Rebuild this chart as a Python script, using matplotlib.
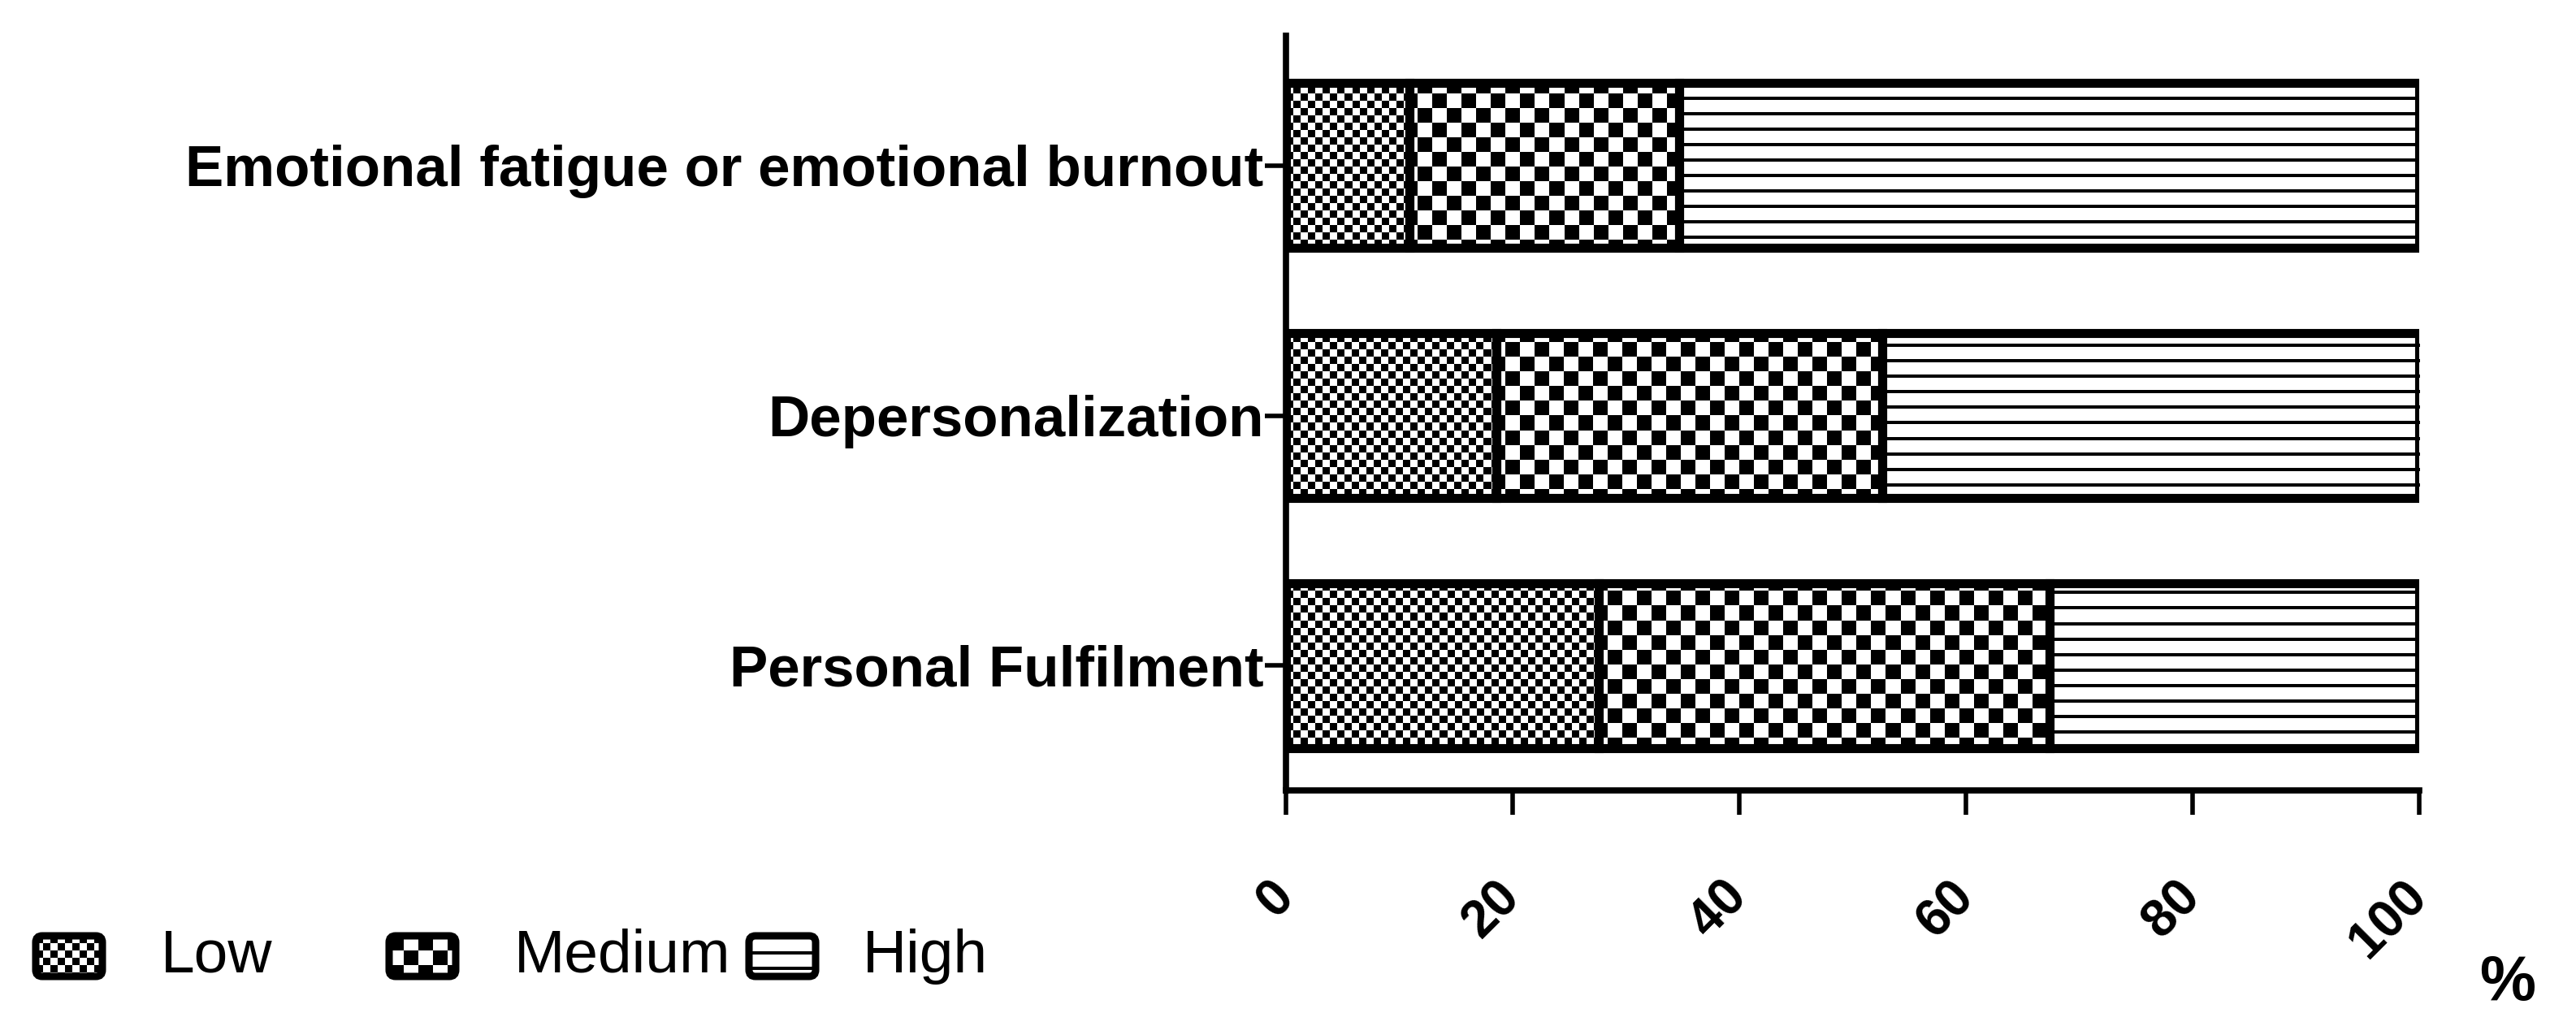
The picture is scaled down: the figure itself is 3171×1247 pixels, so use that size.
import numpy as np
import matplotlib
matplotlib.use("Agg")
import matplotlib.pyplot as plt
from matplotlib.patches import FancyBboxPatch

plt.rcParams['font.family'] = ['Liberation Sans', 'DejaVu Sans']

# --- data (percent of respondents) ---
categories = ['Personal Fulfilment', 'Depersonalization',
              'Emotional fatigue or emotional burnout']
levels = ['Low', 'Medium', 'High']
low = [27.6, 18.6, 10.9]
medium = [39.8, 34.0, 23.8]
high = [32.6, 47.4, 65.3]
x_ticks = [0, 20, 40, 60, 80, 100]
x_unit = '%'

# --- canvas, in pixels ---
W, H = 3171, 1247
fig = plt.figure(figsize=(W / 100, H / 100), dpi=100)
fig.patch.set_facecolor('white')

ax_l, ax_r, ax_b, ax_t = 1583, 2978, 973, 44
ax = fig.add_axes([ax_l / W, (H - ax_b) / H, (ax_r - ax_l) / W, (ax_b - ax_t) / H])
ax_w, ax_h = ax_r - ax_l, ax_b - ax_t


def pattern(kind, h, w):
    """black/white fill pattern, 1 = white, 0 = black"""
    yy, xx = np.mgrid[0:h, 0:w]
    if kind == 'fine':
        return ((xx // 9 + yy // 9) % 2).astype(float)
    if kind == 'coarse':
        return ((xx // 18 + yy // 18) % 2).astype(float)
    return ((yy % 19) >= 4).astype(float)


fills = ['fine', 'coarse', 'lines']
series = [low, medium, high]

xlim = (0, 100)
ylim = (-0.5, 2.52)
ypos = np.arange(len(categories))
bar_h = 0.66

left = np.zeros(len(categories))
for vals, kind in zip(series, fills):
    bars = ax.barh(ypos, vals, height=bar_h, left=left, facecolor='none',
                   edgecolor='black', linewidth=8, zorder=3)
    img = pattern(kind, ax_h, ax_w)
    for b in bars:
        im = ax.imshow(img, cmap='gray', vmin=0, vmax=1, aspect='auto',
                       interpolation='nearest', origin='upper',
                       extent=(xlim[0], xlim[1], ylim[0], ylim[1]), zorder=2)
        im.set_clip_path(b)
    left = left + np.array(vals)

ax.set_xlim(*xlim)
ax.set_ylim(*ylim)

for s in ['top', 'right']:
    ax.spines[s].set_visible(False)
for s in ['left', 'bottom']:
    ax.spines[s].set_linewidth(5.5)

ax.set_yticks(ypos)
ax.set_yticklabels(categories, fontsize=51, fontweight='bold')
ax.tick_params(axis='y', length=18.7, width=4, pad=1)

ax.set_xticks(x_ticks)
ax.set_xticklabels([str(t) for t in x_ticks], fontsize=46, fontweight='bold',
                   rotation=45, ha='right', va='center', rotation_mode='anchor')
ax.tick_params(axis='x', length=21.6, width=4, pad=66)

fig.text(3087 / W, 1 - 1210 / H, x_unit, fontsize=56, fontweight='bold',
         ha='center', va='center')

# --- legend, drawn in pixel space ---
leg = fig.add_axes([0, 0, 1, 1], facecolor='none')
leg.set_xlim(0, W)
leg.set_ylim(H, 0)
leg.axis('off')

box_x = [44, 479, 922]
text_x = [198, 633, 1062]
box_w, box_hgt, box_cy = 82, 50, 1177
for name, kind, bx, tx in zip(levels, fills, box_x, text_x):
    box = FancyBboxPatch((bx, box_cy - box_hgt / 2), box_w, box_hgt,
                         boxstyle='round,pad=0,rounding_size=8',
                         facecolor='none', edgecolor='black', linewidth=6.5, zorder=3)
    leg.add_patch(box)
    pimg = pattern(kind, box_hgt, box_w)
    im = leg.imshow(pimg, cmap='gray', vmin=0, vmax=1, aspect='auto',
                    interpolation='nearest',
                    extent=(bx, bx + box_w, box_cy + box_hgt / 2, box_cy - box_hgt / 2),
                    zorder=2)
    im.set_clip_path(box)
    leg.text(tx, box_cy, name, fontsize=54, ha='left', va='center')
leg.set_xlim(0, W)
leg.set_ylim(H, 0)

fig.savefig('out.png', dpi=100, facecolor='white')
